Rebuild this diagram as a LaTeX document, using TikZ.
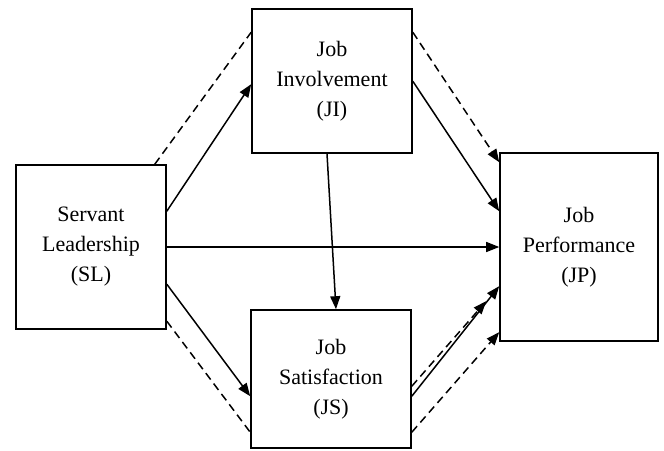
\documentclass[tikz,border=0pt]{standalone}
\usepackage{fontspec}
\setmainfont{Liberation Serif}
\usetikzlibrary{arrows.meta}
\begin{document}
\begin{tikzpicture}[x=1pt,y=-1pt,
  box/.style={draw,line width=1.6pt,align=center,inner sep=0pt,font=\fontsize{22}{30}\selectfont},
  conn/.style={line width=1.5pt},
  arr/.style={conn,-{Triangle[length=13pt,width=10pt]}},
  dsh/.style={dash pattern=on 8pt off 5pt}]
\fill[white] (0,0) rectangle (664,450);
\useasboundingbox (0,0) rectangle (664,450);
\node[box,minimum width=150pt,minimum height=164pt] (SL) at (91,247) {Servant\\Leadership\\(SL)};
\node[box,minimum width=160pt,minimum height=144pt] (JI) at (332,81) {Job\\Involvement\\(JI)};
\node[box,minimum width=160pt,minimum height=138pt] (JS) at (331,379) {Job\\Satisfaction\\(JS)};
\node[box,minimum width=158pt,minimum height=188pt] (JP) at (579,247) {Job\\Performance\\(JP)};
% SL outgoing
\draw[conn,dsh] ([xshift=-12pt]SL.north east) -- ([yshift=-24pt]JI.north west);
\draw[arr] ([yshift=-47pt]SL.north east) -- ([yshift=-76pt]JI.north west);
\draw[arr] (SL.east) -- (JP.west);
\draw[arr] ([yshift=-120pt]SL.north east) -- ([yshift=-87pt]JS.north west);
\draw[conn,dsh] ([yshift=-157pt]SL.north east) -- ([yshift=-123pt]JS.north west);
% JI outgoing
\draw[arr,dsh] ([yshift=-24pt]JI.north east) -- ([yshift=-10pt]JP.north west);
\draw[arr] ([yshift=-73pt]JI.north east) -- ([yshift=-59pt]JP.north west);
\draw[arr] ([xshift=-5pt]JI.south) -- ([xshift=5pt]JS.north);
% JS outgoing
\coordinate (jsend) at ([xshift=-13pt,yshift=-149pt]JP.north west);
\draw[arr,dsh] ([yshift=-77pt]JS.north east) -- (jsend);
\draw[arr] ([yshift=-87pt]JS.north east) -- ([yshift=-134pt]JP.north west);
\draw[arr,dsh] ([yshift=-123pt]JS.north east) -- ([yshift=-180pt]JP.north west);
\end{tikzpicture}
\end{document}
